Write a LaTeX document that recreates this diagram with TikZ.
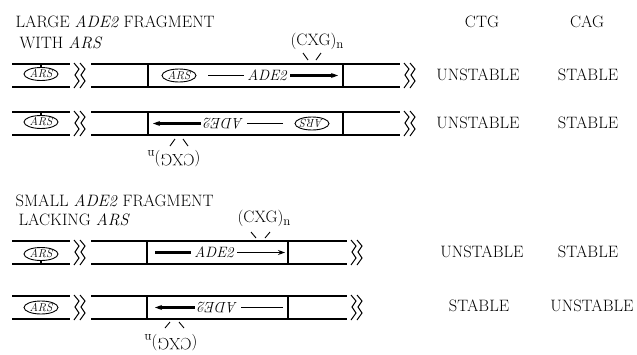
\documentclass[tikz,border=0pt]{standalone}
\usepackage{tikz}
\usetikzlibrary{arrows.meta,shapes.geometric}

\newcommand{\cxgn}{(CXG)\raisebox{-3.5pt}{\fontsize{13}{13}\selectfont n}}

\begin{document}
\begin{tikzpicture}[x=1pt, y=-1pt, >={Stealth[length=7pt,width=5pt]}, line width=1.3pt,
  lbl/.style={font=\fontsize{16.5}{19}\selectfont, inner sep=0pt},
  ars/.style={ellipse, draw, line width=0.9pt, minimum width=34pt, minimum height=13pt,
    inner sep=0pt, font=\fontsize{11.5}{11.5}\selectfont\itshape},
  gene/.style={font=\fontsize{15}{15}\selectfont\itshape, inner sep=3pt},
  tick/.style={line width=0.9pt},
  brk/.pic={\foreach \d in {0,6}
    \draw[line width=1pt] (\d,-1) -- ++(5,6) -- ++(-4,6) -- ++(4,6) -- ++(-5,7);}]
  \useasboundingbox (0,0) rectangle (637,354);

  % --- 見出し ---
  \node[lbl, anchor=west] (tlarge) at (15,22) {LARGE \textit{ADE2} FRAGMENT};
  \node[lbl, anchor=west] (twith) at (19,43) {WITH \textit{ARS}};
  \node[lbl, anchor=west] (tsmall) at (15,201) {SMALL \textit{ADE2} FRAGMENT};
  \node[lbl, anchor=west] (tlack) at (18,220) {LACKING \textit{ARS}};
  \node[lbl] (ctg) at (482,22) {CTG};
  \node[lbl] (cag) at (587,22) {CAG};

  % --- ベクター部分：ARS と切れ目 ---
  \foreach \y/\e/\o in {64/400/10, 112/400/10, 241/347/13, 296/347/11.5} {
    \draw (12,\y) -- (70,\y) (12,\y+23) -- (70,\y+23);
    \node[ars] (ars\y) at (41,\y+\o) {ARS};
    \pic at (74,\y) {brk};
    \draw (91,\y) -- (\e,\y) (91,\y+23) -- (\e,\y+23);
    \pic at (\e+4,\y) {brk};
  }
  \draw[line width=2.2pt] (ars64.north) -- (41,64) (ars112.north) -- (41,112)
    (ars241.south) -- (41,264);

  % --- 大きい断片（正向き） ---
  \begin{scope}[shift={(0,64)}]
    \draw (148,0) -- (148,23) (343,0) -- (343,23);
    \node[ars] (arsa) at (179,11.5) {ARS};
    \node[gene] (adea) at (267,11.5) {ADE2};
    \draw[line width=1.1pt] (208,11.5) -- (adea.west);
    \draw[->, line width=2.2pt] (adea.east) -- (338,11.5);
    \node[lbl, anchor=base west] (cxga) at (290,-19) {\cxgn};
    \draw[tick] (303,-11) -- (308,-4) (321,-11) -- (316,-4);
  \end{scope}

  % --- 大きい断片（逆向き） ---
  \begin{scope}[shift={(491,135)}, rotate=180]
    \draw (148,0) -- (148,23) (343,0) -- (343,23);
    \node[ars, transform shape] (arsb) at (179,11.5) {ARS};
    \node[gene, transform shape] (adeb) at (267,11.5) {ADE2};
    \draw[line width=1.1pt] (208,11.5) -- (adeb.west);
    \draw[->, line width=2.2pt] (adeb.east) -- (338,11.5);
    \node[lbl, anchor=base west, transform shape] (cxgb) at (290,-19) {\cxgn};
    \draw[tick] (303,-11) -- (308,-4) (321,-11) -- (316,-4);
  \end{scope}

  % --- 小さい断片（正向き） ---
  \begin{scope}[shift={(0,241)}]
    \draw (147,0) -- (147,23) (288,0) -- (288,23);
    \node[gene] (adec) at (214,11.5) {ADE2};
    \draw[line width=2.2pt] (155,11.5) -- (adec.west);
    \draw[->, line width=1.1pt] (adec.east) -- (285,11.5);
    \node[lbl, anchor=base west] (cxgc) at (237,-19) {\cxgn};
    \draw[tick] (251,-9) -- (256,-3) (270,-9) -- (265,-3);
  \end{scope}

  % --- 小さい断片（逆向き） ---
  \begin{scope}[shift={(435,319)}, rotate=180]
    \draw (147,0) -- (147,23) (288,0) -- (288,23);
    \node[gene, transform shape] (aded) at (217,11.5) {ADE2};
    \draw[line width=1.1pt] (152,11.5) -- (aded.west);
    \draw[->, line width=2.2pt] (aded.east) -- (280,11.5);
    \node[lbl, anchor=base west, transform shape] (cxgd) at (237,-19) {\cxgn};
    \draw[tick] (251,-9) -- (256,-3) (270,-9) -- (265,-3);
  \end{scope}

  % --- 安定性 ---
  \node[lbl] (ctga) at (478,75) {UNSTABLE};
  \node[lbl] (caga) at (588,75) {STABLE};
  \node[lbl] (ctgb) at (478,123) {UNSTABLE};
  \node[lbl] (cagb) at (588,123) {STABLE};
  \node[lbl] (ctgc) at (482,252) {UNSTABLE};
  \node[lbl] (cagc) at (588,252) {STABLE};
  \node[lbl] (ctgd) at (479,306) {STABLE};
  \node[lbl] (cagd) at (592,306) {UNSTABLE};
\end{tikzpicture}
\end{document}
